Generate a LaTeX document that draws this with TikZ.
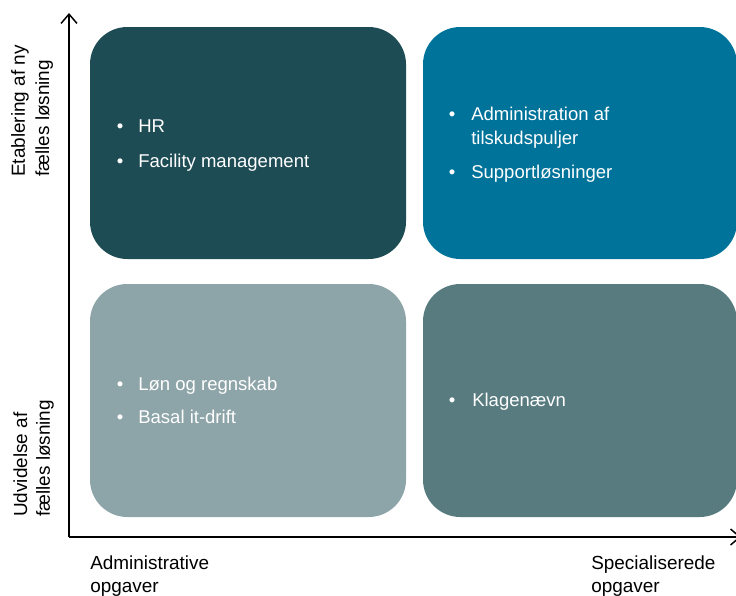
\documentclass[tikz,border=0pt]{standalone}
\usepackage{fontspec}
\setmainfont{Liberation Sans}
\usetikzlibrary{arrows.meta}
\definecolor{cTL}{HTML}{1E4C55}
\definecolor{cTR}{HTML}{00739A}
\definecolor{cBL}{HTML}{8DA4A8}
\definecolor{cBR}{HTML}{587B80}
\tikzset{
  quad/.style={rounded corners=28pt},
  itemtxt/.style={anchor=base west, inner sep=0pt, text=white, font=\fontsize{13.9}{17.5}\selectfont},
  bul/.style={anchor=base, inner sep=0pt, text=white, font=\fontsize{13.9}{17.5}\selectfont},
  axlabel/.style={anchor=base west, inner sep=0pt, text=black, font=\fontsize{14.2}{17.5}\selectfont},
  sidelabel/.style={axlabel, rotate=90},
  axis/.style={line width=1.1pt, -{Straight Barb[length=7pt,width=12pt,line width=1.1pt]}}
}
\begin{document}
\begin{tikzpicture}[x=0.75pt,y=-0.75pt]
\useasboundingbox (0,0) rectangle (736,596);
% quadrants
\fill[cTL, quad] (90,27) rectangle (406,259);
\fill[cTR, quad] (423,27) rectangle (737,259);
\fill[cBL, quad] (90,284) rectangle (406,517);
\fill[cBR, quad] (423,284) rectangle (737,517);
% axes
\coordinate (origin) at (69,537);
\coordinate (ytip) at (69,13);
\coordinate (xtip) at (741,537);
\draw[axis] (origin) -- (ytip);
\draw[axis] (origin) -- (xtip);
% top-left items
\node[bul] (b1) at (120,132) {•};
\node[itemtxt] (t1) at (138,132) {HR};
\node[bul] (b2) at (120,167) {•};
\node[itemtxt] (t2) at (138,167) {Facility management};
% top-right items
\node[bul] (b3) at (452,120) {•};
\node[itemtxt] (t3) at (471,120) {Administration af};
\node[itemtxt] (t3b) at (471,144) {tilskudspuljer};
\node[bul] (b4) at (452,178) {•};
\node[itemtxt] (t4) at (471,178) {Supportløsninger};
% bottom-left items
\node[bul] (b5) at (120,390) {•};
\node[itemtxt] (t5) at (138,390) {Løn og regnskab};
\node[bul] (b6) at (120,423) {•};
\node[itemtxt] (t6) at (138,423) {Basal it-drift};
% bottom-right items
\node[bul] (b7) at (452,406) {•};
\node[itemtxt] (t7) at (472,406) {Klagenævn};
% side labels
\node[sidelabel] (ly1) at (25,177) {Etablering af ny};
\node[sidelabel] (ly2) at (49,177) {fælles løsning};
\node[sidelabel] (ly3) at (27,517) {Udvidelse af};
\node[sidelabel] (ly4) at (50,517) {fælles løsning};
% bottom labels
\node[axlabel] (lx1) at (90,569) {Administrative};
\node[axlabel] (lx2) at (90,592) {opgaver};
\node[axlabel] (lx3) at (591,569) {Specialiserede};
\node[axlabel] (lx4) at (591,592) {opgaver};
\end{tikzpicture}
\end{document}
